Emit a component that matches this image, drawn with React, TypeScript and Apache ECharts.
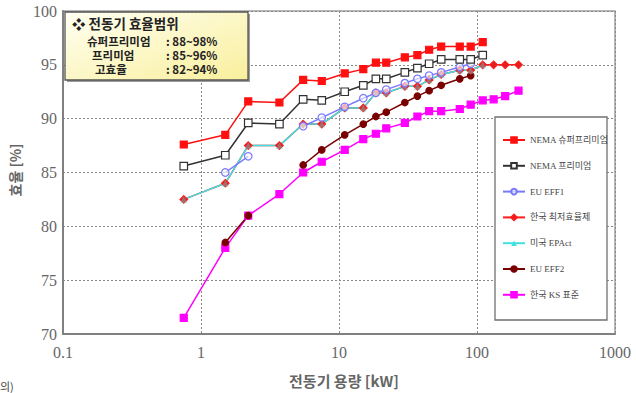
import React, { useEffect, useRef } from "react";
import * as echarts from "echarts";

// Motor rated output [kW]
const kW = [0.75, 1.5, 2.2, 3.7, 5.5, 7.5, 11, 15, 18.5, 22, 30, 37, 45, 55, 75, 90, 110, 132, 160, 200];

const nemaSuperPremium = [87.6, 88.5, 91.6, 91.5, 93.6, 93.5, 94.2, 94.6, 95.2, 95.2, 95.7, 95.9, 96.4, 96.7, 96.7, 96.7, 97.1, null, null, null];
const nemaPremium = [85.6, 86.6, 89.6, 89.5, 91.8, 91.7, 92.5, 93.1, 93.7, 93.7, 94.3, 94.7, 95.1, 95.5, 95.5, 95.5, 95.9, null, null, null];
const euEff1 = [null, 85.0, 86.5, null, 89.3, 90.1, 91.1, 91.9, 92.4, 92.7, 93.3, 93.7, 94.0, 94.3, 94.8, 95.1, null, null, null, null];
const koreaMin = [82.5, 84.0, 87.5, 87.5, 89.5, 89.5, 91.0, 91.0, 92.4, 92.4, 93.0, 93.0, 93.6, 94.1, 94.5, 94.5, 95.0, 95.0, 95.0, 95.0];
const usEpact = [82.5, 84.0, 87.5, 87.5, 89.5, 89.5, 91.0, 91.0, 92.4, 92.4, 93.0, 93.0, 93.6, 94.1, 94.5, 94.5, 95.0, null, null, null];
const euEff2 = [null, 78.5, 81.0, null, 85.7, 87.1, 88.5, 89.5, 90.2, 90.6, 91.5, 92.1, 92.6, 93.1, 93.7, 94.0, null, null, null, null];
const koreaKs = [71.5, 78.0, 81.0, 83.0, 85.0, 86.0, 87.1, 88.1, 88.6, 89.1, 89.6, 90.2, 90.7, 90.7, 90.9, 91.3, 91.7, 91.8, 92.1, 92.6];

const seriesNames = ["NEMA 슈퍼프리미엄", "NEMA 프리미엄", "EU EFF1", "한국 최저효율제", "미국 EPAct", "EU EFF2", "한국 KS 표준"];

const xTickValues = [0.1, 1, 10, 100, 1000];
const xTickLabels = ["0.1", "1", "10", "100", "1000"];

const infoTitle = "❖ 전동기 효율범위";
const infoLabels = ["슈퍼프리미엄", "프리미엄", "고효율"];
const infoRanges = [": 88~98%", ": 85~96%", ": 82~94%"];

const pairs = (arr: (number | null)[]) => kW.map((k, i) => [k, arr[i] == null ? "-" : arr[i]]);

export default function App() {
  const ref = useRef<HTMLDivElement>(null);
  useEffect(() => {
    if (!ref.current) return;
    const chart = echarts.init(ref.current, undefined, { renderer: "svg" });
    const serif = "'Liberation Serif', 'Times New Roman', serif";
    const legendFont = "'Liberation Serif', 'Noto Sans CJK KR', serif";
    const kr = "'Noto Sans CJK KR', sans-serif";

    const mk = (name: string, data: (number | null)[], color: string, symbol: string, size: number, fill: string, extra: any = {}) => ({
      name,
      type: "line",
      data: pairs(data),
      symbol,
      symbolSize: size,
      showSymbol: true,
      connectNulls: false,
      lineStyle: { color, width: 1.5 },
      itemStyle: { color: fill, borderColor: color, borderWidth: 1.2 },
      ...extra,
    });

    const richBase = { fontSize: 11.5, lineHeight: 14, fontWeight: "bold", fontFamily: kr, color: "#222" };
    const labelText = infoLabels.map((l, i) => `{l${i}|${l}}`).join("\n");
    const rangeText = infoRanges.map((r) => `{r|${r}}`).join("\n");

    chart.setOption({
      animation: false,
      grid: { left: 63, top: 11, width: 552, height: 323, show: true, borderColor: "#a0a0a0", borderWidth: 1.5, backgroundColor: "transparent" },
      xAxis: {
        type: "log", logBase: 10, min: 0.1, max: 1000,
        axisLine: { show: true, lineStyle: { color: "#808080", width: 2 } },
        axisTick: { show: false },
        axisLabel: {
          fontSize: 16, fontFamily: serif, color: "#666", margin: 10,
          formatter: (v: number) => {
            let best = 0;
            xTickValues.forEach((t, i) => { if (Math.abs(Math.log10(t) - Math.log10(v)) < Math.abs(Math.log10(xTickValues[best]) - Math.log10(v))) best = i; });
            return xTickLabels[best];
          },
        },
        splitLine: { show: true, lineStyle: { color: "#888", type: [2, 2], width: 1 } },
      },
      yAxis: {
        type: "value", min: 70, max: 100, interval: 5,
        axisLine: { show: true, lineStyle: { color: "#808080", width: 2 } },
        axisTick: { show: false },
        axisLabel: { fontSize: 16, fontFamily: serif, color: "#666", margin: 6 },
        splitLine: { show: true, lineStyle: { color: "#888", type: [2, 2], width: 1 } },
      },
      legend: {
        orient: "vertical", left: 502, top: 134, padding: 0,
        itemWidth: 22, itemHeight: 7, itemGap: 13.8,
        textStyle: { fontSize: 9, fontFamily: legendFont, color: "#444", lineHeight: 12 },
        data: [
          { name: seriesNames[0] },
          { name: seriesNames[1] },
          { name: seriesNames[2] },
          { name: seriesNames[3] },
          { name: seriesNames[4], itemStyle: { color: "#40e0e0", borderColor: "#40e0e0" } },
          { name: seriesNames[5] },
          { name: seriesNames[6] },
        ],
        z: 20,
      },
      graphic: [
        // legend frame
        { type: "rect", z: 5, shape: { x: 495, y: 117, width: 112, height: 203 }, style: { fill: "#fff", stroke: "#707070", lineWidth: 1.3 } },
        // info box shadow + box
        { type: "rect", z: 10, shape: { x: 67, y: 14, width: 183, height: 68 }, style: { fill: "#9a9a9a" } },
        {
          type: "rect", z: 11, shape: { x: 65, y: 12, width: 183, height: 68 },
          style: {
            fill: new echarts.graphic.LinearGradient(0, 0, 1, 1, [
              { offset: 0, color: "#fffff2" },
              { offset: 1, color: "#f9ef9c" },
            ]),
            stroke: "#555", lineWidth: 1.3,
          },
        },
        {
          type: "text", x: 72, y: 23, z: 12,
          style: { text: infoTitle, fontSize: 13.5, lineHeight: 14, fontWeight: "bold", fontFamily: kr, fill: "#222", verticalAlign: "middle" },
        },
        {
          type: "text", x: 87, y: 33.5, z: 12,
          style: {
            text: labelText, verticalAlign: "top", ...{ fontSize: 11.5, lineHeight: 14, fontWeight: "bold", fontFamily: kr, fill: "#222" },
            rich: {
              l0: { ...richBase, padding: [0, 0, 0, 0] },
              l1: { ...richBase, padding: [0, 0, 0, 5] },
              l2: { ...richBase, padding: [0, 0, 0, 8] },
            },
          },
        },
        {
          type: "text", x: 166, y: 33.5, z: 12,
          style: {
            text: rangeText, verticalAlign: "top", fontSize: 11.5, lineHeight: 14, fontWeight: "bold", fontFamily: kr, fill: "#222",
            rich: { r: { ...richBase } },
          },
        },
        // axis titles
        {
          type: "text", x: 15, y: 170, rotation: Math.PI / 2, z: 12,
          style: { text: "효율 [%]", fontSize: 14, fontWeight: "bold", fontFamily: kr, fill: "#666", align: "center", verticalAlign: "middle" },
        },
        {
          type: "text", x: 344, y: 380, z: 12,
          style: { text: "전동기 용량 [kW]", fontSize: 15, fontWeight: "bold", fontFamily: kr, fill: "#666", align: "center", verticalAlign: "middle" },
        },
        {
          type: "text", x: 0, y: 380, z: 12,
          style: { text: "의)", fontSize: 11, lineHeight: 12, fontFamily: kr, fill: "#444" },
        },
      ],
      series: [
        mk(seriesNames[6], koreaKs, "#ff00ff", "rect", 7, "#ff00ff"),
        mk(seriesNames[5], euEff2, "#7a0000", "circle", 6.5, "#7a0000"),
        mk(seriesNames[3], koreaMin, "#ff1a1a", "diamond", 7.5, "#e02020"),
        mk(seriesNames[4], usEpact, "#40e0e0", "triangle", 7, "rgba(64,224,224,0.45)", { itemStyle: { color: "rgba(90,200,200,0.45)", borderWidth: 0 } }),
        mk(seriesNames[2], euEff1, "#7878ff", "circle", 7.5, "rgba(255,255,255,0.6)"),
        mk(seriesNames[1], nemaPremium, "#333", "rect", 7.5, "#fff"),
        mk(seriesNames[0], nemaSuperPremium, "#ff1010", "rect", 7, "#ff1010"),
      ],
    });
    return () => chart.dispose();
  }, []);
  return <div ref={ref} style={{ position: "absolute", left: 0, top: 0, width: 636, height: 393 }} />;
}
